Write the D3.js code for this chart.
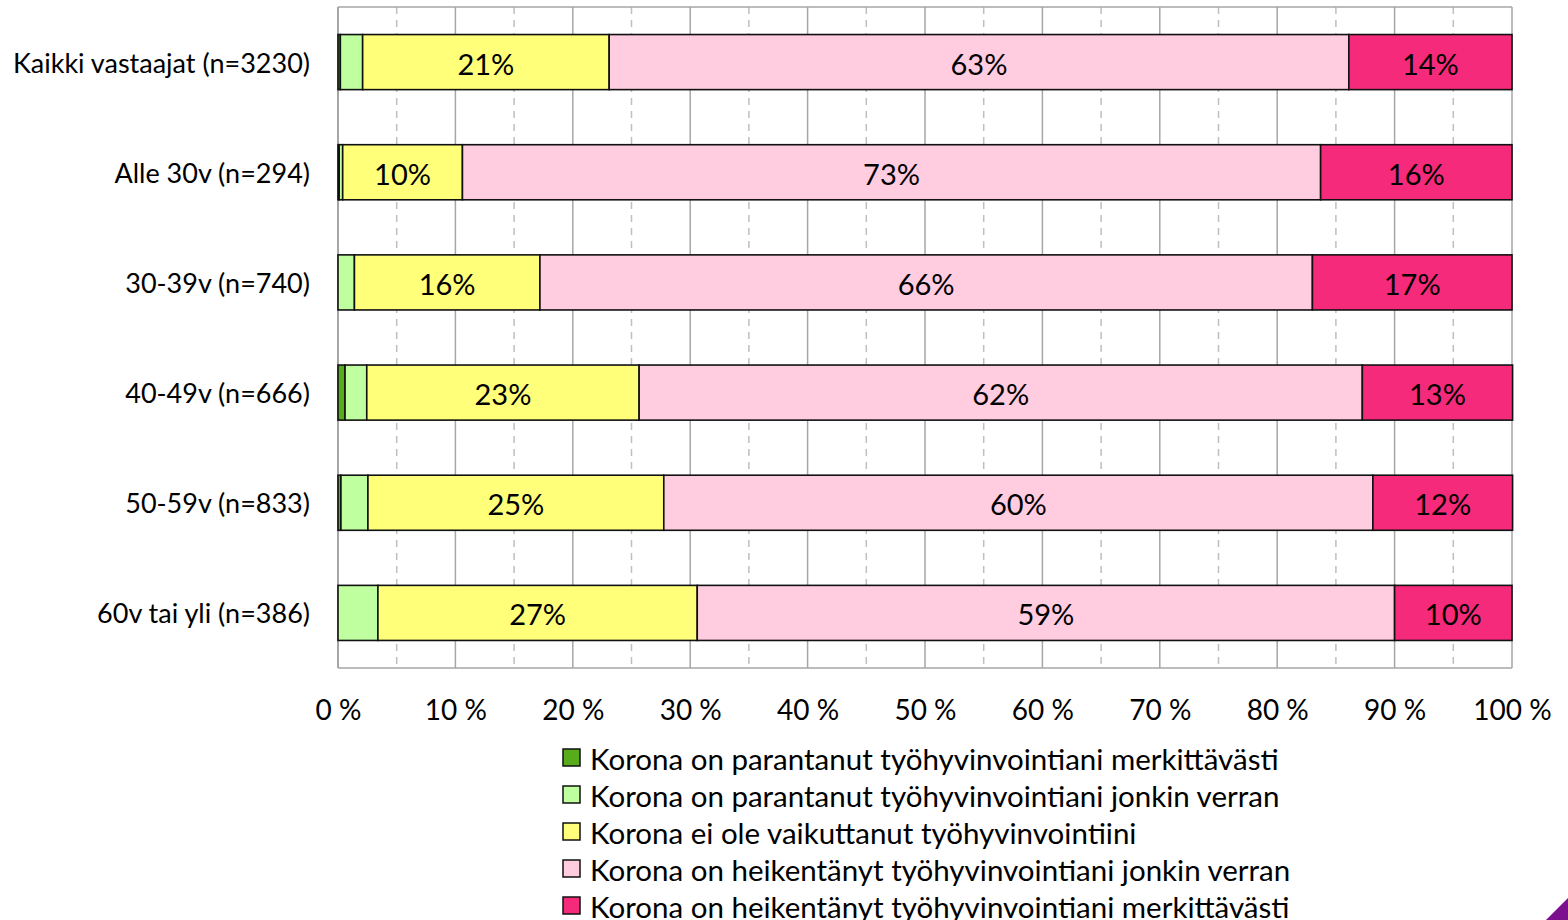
<!DOCTYPE html>
<html><head><meta charset="utf-8">
<script src="https://cdn.jsdelivr.net/npm/d3@7"></script>
<style>
html,body{margin:0;padding:0;background:#fff;}
svg{display:block;font-family:Lato, "Open Sans", sans-serif;}
</style></head>
<body><svg id="c" width="1568" height="920"></svg>
<script>
const categories = ["Kaikki vastaajat (n=3230)","Alle 30v (n=294)","30-39v (n=740)","40-49v (n=666)","50-59v (n=833)","60v tai yli (n=386)"];
const seriesNames = [
  "Korona on parantanut työhyvinvointiani merkittävästi",
  "Korona on parantanut työhyvinvointiani jonkin verran",
  "Korona ei ole vaikuttanut työhyvinvointiini",
  "Korona on heikentänyt työhyvinvointiani jonkin verran",
  "Korona on heikentänyt työhyvinvointiani merkittävästi"
];
const paransiMerk  = [0.2, 0.1, 0.0, 0.6, 0.25, 0.0];
const paransiJonk  = [1.9, 0.3, 1.4, 1.85, 2.3, 3.4];
const eiVaik       = [21.0, 10.2, 15.8, 23.2, 25.2, 27.2];
const heikJonk     = [63.0, 73.1, 65.8, 61.6, 60.4, 59.4];
const heikMerk     = [13.9, 16.3, 17.0, 12.8, 11.9, 10.0];
const tickLabels = ["0 %","10 %","20 %","30 %","40 %","50 %","60 %","70 %","80 %","90 %","100 %"];
const colors = ["#58AC1C","#C0FFA0","#FFFF7A","#FFCCE0","#F52A7A"];

const series = [paransiMerk, paransiJonk, eiVaik, heikJonk, heikMerk];
const rows = categories.map((c,i)=>{
  const o={cat:c}; series.forEach((s,k)=>o["s"+k]=s[i]); return o;
});
const keys = series.map((s,k)=>"s"+k);
const stacked = d3.stack().keys(keys)(rows);

const svg = d3.select("#c");
const L=338, R=1512, T=7, B=668;
const x = d3.scaleLinear().domain([0,100]).range([L,R]);
const y = d3.scaleBand().domain(categories).range([T,B]).paddingInner(0.5).paddingOuter(0.25);

// grid
const g = svg.append("g");
g.selectAll("line.minor").data(d3.range(5,100,10)).join("line")
  .attr("x1",d=>x(d)).attr("x2",d=>x(d)).attr("y1",T).attr("y2",B)
  .attr("stroke","#BFBFBF").attr("stroke-width",1.5).attr("stroke-dasharray","7,6");
g.selectAll("line.major").data(d3.range(10,101,10)).join("line")
  .attr("x1",d=>x(d)).attr("x2",d=>x(d)).attr("y1",T).attr("y2",B)
  .attr("stroke","#A6A6A6").attr("stroke-width",1.5);
g.append("line").attr("x1",L).attr("x2",R).attr("y1",T).attr("y2",T).attr("stroke","#A6A6A6").attr("stroke-width",1.5);
g.append("line").attr("x1",L).attr("x2",R).attr("y1",B).attr("y2",B).attr("stroke","#A6A6A6").attr("stroke-width",1.5);
g.append("line").attr("x1",L).attr("x2",L).attr("y1",T).attr("y2",B).attr("stroke","#A6A6A6").attr("stroke-width",2);

// bars
const layers = svg.append("g").selectAll("g").data(stacked).join("g").attr("fill",(d,i)=>colors[i]);
layers.selectAll("rect").data(d=>d.filter(p=>p[1]-p[0]>0)).join("rect")
  .attr("x",d=>x(d[0])).attr("width",d=>x(d[1])-x(d[0]))
  .attr("y",d=>y(d.data.cat)).attr("height",y.bandwidth())
  .attr("stroke","#111").attr("stroke-width",1.6);

// labels
const fmt = v=>Math.round(v)+"%";
layers.selectAll("text").data(d=>d.filter(p=>p[1]-p[0]>=5)).join("text")
  .attr("x",d=>(x(d[0])+x(d[1]))/2).attr("y",d=>y(d.data.cat)+y.bandwidth()/2+1)
  .attr("text-anchor","middle").attr("dominant-baseline","central")
  .attr("font-size",29).attr("fill","#000")
  .text(d=>fmt(d[1]-d[0]));

// y labels
svg.append("g").selectAll("text").data(categories).join("text")
  .attr("x",310).attr("y",d=>y(d)+y.bandwidth()/2)
  .attr("text-anchor","end").attr("dominant-baseline","central")
  .attr("font-size",27).attr("fill","#000").text(d=>d);

// x axis
const xAxis = d3.axisBottom(x).tickValues(d3.range(0,101,10)).tickSize(0).tickFormat((d,i)=>tickLabels[i]);
const ax = svg.append("g").attr("transform",`translate(0,${B})`).call(xAxis);
ax.select(".domain").remove();
ax.selectAll("text").attr("font-size",28).attr("font-family","Lato, sans-serif").attr("fill","#000").attr("dy",0).attr("y",52);

// legend
const lg = svg.append("g").selectAll("g").data(seriesNames).join("g")
  .attr("transform",(d,i)=>`translate(563,${758+i*37})`);
lg.append("rect").attr("x",0).attr("y",-9).attr("width",17).attr("height",17)
  .attr("fill",(d,i)=>colors[i]).attr("stroke","#111").attr("stroke-width",1.5);
lg.append("text").attr("x",27).attr("y",0).attr("dominant-baseline","central")
  .attr("font-size",29.5).attr("fill","#000").text(d=>d);

// corner decoration
svg.append("path").attr("d","M1568,898 L1568,920 L1546,920 Z").attr("fill","#7B0F8E");
</script></body></html>
